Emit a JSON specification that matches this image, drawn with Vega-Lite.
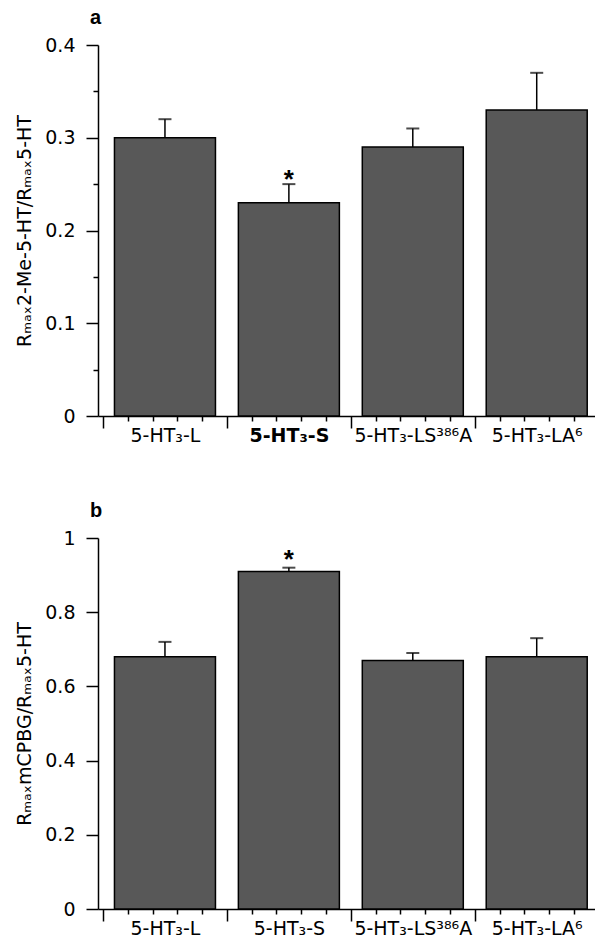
{
  "$schema": "https://vega.github.io/schema/vega-lite/v6.json",
  "padding": {"left": 15, "top": 8, "right": 0, "bottom": 0},
  "background": "white",
  "spacing": 49,
  "config": {
    "font": "DejaVu Sans",
    "view": {"stroke": null},
    "axis": {
      "domainColor": "#000",
      "domainWidth": 1.5,
      "tickColor": "#000",
      "tickWidth": 1.5,
      "labelColor": "#000",
      "labelFontSize": 19,
      "labelFont": "DejaVu Sans",
      "titleColor": "#000",
      "titleFont": "DejaVu Sans",
      "titleFontSize": 19,
      "titleFontWeight": "normal",
      "grid": false,
      "labelOverlap": false,
      "labelFlush": false
    }
  },
  "datasets": {
    "a": [
      {"k": 1, "receptor": "5-HT3-L", "value": 0.30, "upper": 0.32, "sig": false},
      {"k": 2, "receptor": "5-HT3-S", "value": 0.23, "upper": 0.25, "sig": true},
      {"k": 3, "receptor": "5-HT3-LS386A", "value": 0.29, "upper": 0.31, "sig": false},
      {"k": 4, "receptor": "5-HT3-LA6", "value": 0.33, "upper": 0.37, "sig": false}
    ],
    "b": [
      {"k": 1, "receptor": "5-HT3-L", "value": 0.68, "upper": 0.72, "sig": false},
      {"k": 2, "receptor": "5-HT3-S", "value": 0.91, "upper": 0.92, "sig": true},
      {"k": 3, "receptor": "5-HT3-LS386A", "value": 0.67, "upper": 0.69, "sig": false},
      {"k": 4, "receptor": "5-HT3-LA6", "value": 0.68, "upper": 0.73, "sig": false}
    ]
  },
  "vconcat": [
    {
      "title": {"text": "a", "anchor": "start", "frame": "group", "font": "Liberation Sans", "fontSize": 20, "fontWeight": "bold", "color": "#000", "dx": -8, "offset": 8},
      "width": 497,
      "height": 371,
      "data": {"name": "a"},
      "encoding": {
        "x": {
          "field": "k", "type": "quantitative",
          "scale": {"domain": [0.5, 4.43], "nice": false, "zero": false},
          "axis": {
            "title": null,
            "values": [0.5, 0.7, 0.9, 1, 1.1, 1.3, 1.5, 1.7, 1.9, 2, 2.1, 2.3, 2.5, 2.7, 2.9, 3, 3.1, 3.3, 3.5, 3.7, 3.9, 4, 4.1, 4.3],
            "tickSize": {"condition": {"test": "datum.value % 1 == 0.5", "value": 12}, "value": 5},
            "tickOpacity": {"condition": {"test": "datum.value % 1 == 0", "value": 0}, "value": 1},
            "labelExpr": "datum.value == 1 ? '5-HT₃-L' : datum.value == 2 ? '5-HT₃-S' : datum.value == 3 ? '5-HT₃-LS³⁸⁶A' : datum.value == 4 ? '5-HT₃-LA⁶' : ''",
            "labelFontWeight": {"condition": {"test": "datum.value == 2", "value": "bold"}, "value": "normal"},
            "labelPadding": 5
          }
        }
      },
      "layer": [
        {
          "mark": {"type": "bar", "orient": "vertical", "width": 101, "fill": "#585858", "stroke": "#000", "strokeWidth": 1.5},
          "encoding": {
            "y": {
              "field": "value", "type": "quantitative",
              "scale": {"domain": [0, 0.4], "nice": false},
              "axis": {
                "title": "Rₘₐₓ2-Me-5-HT/Rₘₐₓ5-HT",
                "values": [0, 0.05, 0.1, 0.15, 0.2, 0.25, 0.3, 0.35, 0.4],
                "tickSize": {"condition": {"test": "round(datum.value * 100) % 10 == 0", "value": 12}, "value": 5},
                "labelExpr": "round(datum.value * 100) % 10 == 0 ? format(datum.value, '.1~f') : ''",
                "labelPadding": 11,
                "titlePadding": 10
              }
            }
          }
        },
        {
          "mark": {"type": "rule", "color": "#000", "strokeWidth": 1.5},
          "encoding": {
            "y": {"field": "value", "type": "quantitative"},
            "y2": {"field": "upper"}
          }
        },
        {
          "mark": {"type": "tick", "orient": "horizontal", "size": 13, "thickness": 2, "color": "#000"},
          "encoding": {
            "y": {"field": "upper", "type": "quantitative"}
          }
        },
        {
          "transform": [{"filter": "datum.sig"}],
          "mark": {"type": "text", "text": "*", "font": "Liberation Sans", "fontSize": 26, "fontWeight": "bold", "baseline": "alphabetic", "dy": 4, "color": "#000"},
          "encoding": {
            "y": {"field": "upper", "type": "quantitative"}
          }
        }
      ]
    },
    {
      "title": {"text": "b", "anchor": "start", "frame": "group", "font": "Liberation Sans", "fontSize": 20, "fontWeight": "bold", "color": "#000", "dx": -8, "offset": 8},
      "width": 497,
      "height": 371,
      "data": {"name": "b"},
      "encoding": {
        "x": {
          "field": "k", "type": "quantitative",
          "scale": {"domain": [0.5, 4.43], "nice": false, "zero": false},
          "axis": {
            "title": null,
            "values": [0.5, 0.7, 0.9, 1, 1.1, 1.3, 1.5, 1.7, 1.9, 2, 2.1, 2.3, 2.5, 2.7, 2.9, 3, 3.1, 3.3, 3.5, 3.7, 3.9, 4, 4.1, 4.3],
            "tickSize": {"condition": {"test": "datum.value % 1 == 0.5", "value": 12}, "value": 5},
            "tickOpacity": {"condition": {"test": "datum.value % 1 == 0", "value": 0}, "value": 1},
            "labelExpr": "datum.value == 1 ? '5-HT₃-L' : datum.value == 2 ? '5-HT₃-S' : datum.value == 3 ? '5-HT₃-LS³⁸⁶A' : datum.value == 4 ? '5-HT₃-LA⁶' : ''",
            "labelPadding": 5
          }
        }
      },
      "layer": [
        {
          "mark": {"type": "bar", "orient": "vertical", "width": 101, "fill": "#585858", "stroke": "#000", "strokeWidth": 1.5},
          "encoding": {
            "y": {
              "field": "value", "type": "quantitative",
              "scale": {"domain": [0, 1], "nice": false},
              "axis": {
                "title": "RₘₐₓmCPBG/Rₘₐₓ5-HT",
                "values": [0, 0.05, 0.1, 0.15, 0.2, 0.25, 0.3, 0.35, 0.4, 0.45, 0.5, 0.55, 0.6, 0.65, 0.7, 0.75, 0.8, 0.85, 0.9, 0.95, 1],
                "tickSize": {"condition": {"test": "round(datum.value * 100) % 20 == 0", "value": 12}, "value": 5},
                "labelExpr": "round(datum.value * 100) % 20 == 0 ? format(datum.value, '.1~f') : ''",
                "labelPadding": 11,
                "titlePadding": 10
              }
            }
          }
        },
        {
          "mark": {"type": "rule", "color": "#000", "strokeWidth": 1.5},
          "encoding": {
            "y": {"field": "value", "type": "quantitative"},
            "y2": {"field": "upper"}
          }
        },
        {
          "mark": {"type": "tick", "orient": "horizontal", "size": 13, "thickness": 2, "color": "#000"},
          "encoding": {
            "y": {"field": "upper", "type": "quantitative"}
          }
        },
        {
          "transform": [{"filter": "datum.sig"}],
          "mark": {"type": "text", "text": "*", "font": "Liberation Sans", "fontSize": 26, "fontWeight": "bold", "baseline": "alphabetic", "dy": 0, "color": "#000"},
          "encoding": {
            "y": {"field": "upper", "type": "quantitative"}
          }
        }
      ]
    }
  ]
}
